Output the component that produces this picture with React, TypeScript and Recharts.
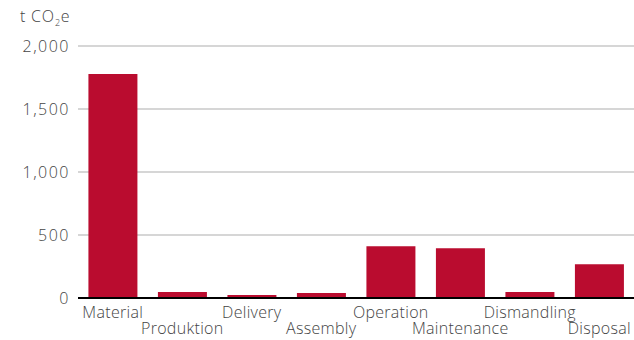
import React from "react";
import { BarChart, Bar, XAxis, YAxis, CartesianGrid, ReferenceLine } from "recharts";

const categories = ["Material", "Produktion", "Delivery", "Assembly", "Operation", "Maintenance", "Dismandling", "Disposal"];
const emissions = [1778, 47, 24, 40, 410, 395, 47, 268];
const yTicks = [0, 500, 1000, 1500, 2000];

const data = categories.map((name, i) => ({ name, value: emissions[i] }));

const FONT = "'Open Sans', sans-serif";
const TEXT = "#444";

// Category labels alternate between two rows so the long names don't collide
const StaggeredTick = (props: any) => {
  const { x, y, payload, index } = props;
  const dy = index % 2 === 0 ? 12 : 28;
  return (
    <text
      x={x}
      y={y + dy}
      textAnchor="middle"
      fill={TEXT}
      fontSize={16}
      fontWeight={300}
      letterSpacing={0.3}
      fontFamily={FONT}
    >
      {payload.value}
    </text>
  );
};

const ValueTick = (props: any) => {
  const { x, y, payload } = props;
  return (
    <text
      x={x - 8}
      y={y + 6}
      textAnchor="end"
      fill={TEXT}
      stroke="none"
      fontSize={16}
      fontWeight={300}
      letterSpacing={1.5}
      fontFamily={FONT}
    >
      {Number(payload.value).toLocaleString("en-US")}
    </text>
  );
};

export default function App() {
  return (
    <div style={{ position: "absolute", left: 0, top: 0, width: 634, height: 340, background: "#fff" }}>
      <BarChart
        width={634}
        height={340}
        data={data}
        margin={{ top: 46, right: 0, left: 0, bottom: 0 }}
        barCategoryGap="15%"
      >
        <CartesianGrid vertical={false} stroke="#c8c8c8" strokeWidth={1.5} />
        <XAxis
          dataKey="name"
          axisLine={false}
          tickLine={false}
          interval={0}
          height={42}
          tick={<StaggeredTick />}
        />
        <YAxis
          width={78}
          domain={[0, 2000]}
          ticks={yTicks}
          axisLine={false}
          tickLine={false}
          tickSize={0}
          tickMargin={0}
          tick={<ValueTick />}
        />
        <Bar dataKey="value" fill="#BA0C2F" isAnimationActive={false} />
        <ReferenceLine y={0} stroke="#000" strokeWidth={2} />
      </BarChart>
      <svg width={634} height={30} style={{ position: "absolute", left: 0, top: 0 }}>
        <text x={20} y={22} fill={TEXT} fontSize={16} fontWeight={300} fontFamily={FONT} letterSpacing={0.8}>
          t CO
          <tspan fontSize={9} dy={4}>2</tspan>
          <tspan dy={-4}>e</tspan>
        </text>
      </svg>
    </div>
  );
}
